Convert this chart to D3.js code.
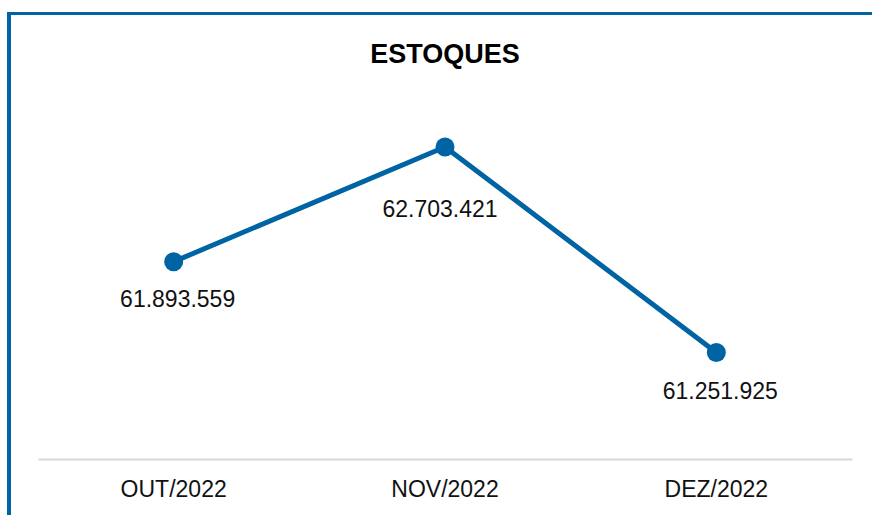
<!DOCTYPE html>
<html>
<head>
<meta charset="utf-8">
<script src="https://cdn.jsdelivr.net/npm/d3@7"></script>
<style>
  html, body { margin: 0; padding: 0; background: #fff; }
  svg { display: block; font-family: "Liberation Sans", Arial, sans-serif; }
</style>
</head>
<body>
<svg id="chart" width="872" height="515"></svg>
<script>
const title = "ESTOQUES";
const categories = ["OUT/2022", "NOV/2022", "DEZ/2022"];
const values = [61893559, 62703421, 61251925];
const labels = ["61.893.559", "62.703.421", "61.251.925"];
const yDomain = [60500000, 63000000];

const W = 872, H = 515;
const blue = "#0063a3";
const svg = d3.select("#chart");

svg.append("rect").attr("width", W).attr("height", H).attr("fill", "#fff");

// frame (left + top edges)
svg.append("rect").attr("x", 7).attr("y", 12).attr("width", W - 7).attr("height", 3).attr("fill", blue);
svg.append("rect").attr("x", 7).attr("y", 12).attr("width", 4).attr("height", H - 12).attr("fill", blue);

const x = d3.scaleBand().domain(categories).range([38, 852]);
const y = d3.scaleLinear().domain(yDomain).range([459, 105]);

// title
svg.append("text")
  .attr("x", 445).attr("y", 63)
  .attr("text-anchor", "middle")
  .attr("font-size", 27).attr("font-weight", "bold").attr("fill", "#000")
  .text(title);

// x axis
const xAxis = d3.axisBottom(x).tickSize(0).tickPadding(22);
const gx = svg.append("g").attr("transform", "translate(0,459)").call(xAxis);
gx.select(".domain").attr("stroke", "#d9d9d9").attr("stroke-width", 2);
gx.selectAll("text")
  .attr("font-size", 23).attr("fill", "#111")
  .attr("font-family", "Liberation Sans, Arial, sans-serif")
  .attr("dy", "0.7em");

const cx = d => x(d) + x.bandwidth() / 2;

const line = d3.line()
  .x((d, i) => cx(categories[i]))
  .y(d => y(d));

svg.append("path")
  .datum(values)
  .attr("d", line)
  .attr("fill", "none")
  .attr("stroke", blue)
  .attr("stroke-width", 5)
  .attr("stroke-linejoin", "round");

svg.selectAll("circle.pt")
  .data(values)
  .enter().append("circle")
  .attr("class", "pt")
  .attr("cx", (d, i) => cx(categories[i]))
  .attr("cy", d => y(d))
  .attr("r", 9.5)
  .attr("fill", blue);

// data labels below points (middle one moved further down)
const labelDy = [45, 70, 46];
svg.selectAll("text.lbl")
  .data(values)
  .enter().append("text")
  .attr("class", "lbl")
  .attr("x", (d, i) => cx(categories[i]) + [4, -5, 4][i])
  .attr("y", (d, i) => y(d) + labelDy[i])
  .attr("text-anchor", "middle")
  .attr("font-size", 23).attr("fill", "#111")
  .text((d, i) => labels[i]);
</script>
</body>
</html>
